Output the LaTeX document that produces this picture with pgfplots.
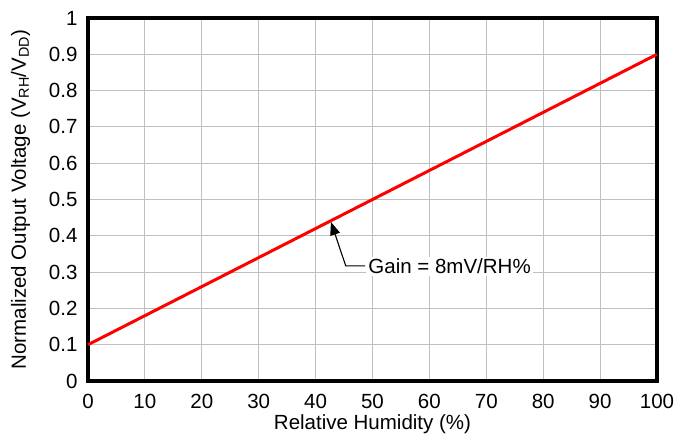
\documentclass[border=0pt]{standalone}
\usepackage{pgfplots}
\pgfplotsset{compat=1.18}
\usetikzlibrary{arrows.meta}
\usepackage{fontspec}
\setmainfont{Liberation Sans}
\begin{document}
\begin{tikzpicture}
\begin{axis}[
  scale only axis,
  width=569pt, height=363pt,
  xmin=0, xmax=100, ymin=0, ymax=1,
  xtick={0,10,...,100},
  ytick={0,0.1,...,1},
  yticklabels={0,0.1,0.2,0.3,0.4,0.5,0.6,0.7,0.8,0.9,1},
  grid=major,
  major grid style={draw=gray!50, line width=1pt},
  axis line style={line width=3.4pt},
  tick style={draw=none},
  /pgf/number format/assume math mode=true,
  ticklabel style={font=\fontsize{20.5}{22}\selectfont},
  label style={font=\fontsize{20.5}{22}\selectfont},
  xticklabel style={yshift=-10pt},
  yticklabel style={xshift=-7pt},
  xlabel={Relative Humidity (\%)},
  ylabel={Normalized Output Voltage (V\textsubscript{RH}/V\textsubscript{DD})},
  xlabel style={yshift=1pt},
  ylabel style={yshift=12pt},
  clip=false,
]
\addplot[red, line width=3pt] coordinates {(0,0.1) (100,0.9)};
\draw[-{Triangle[length=13pt,width=10pt]}, line width=1.1pt] (axis cs:48.7,0.317) -- (axis cs:45.3,0.317) -- (axis cs:42.7,0.438);
\node[anchor=west, fill=white, inner sep=2pt, font=\fontsize{20.5}{22}\selectfont] at (axis cs:48.9,0.315) {Gain = 8mV/RH\%};
\end{axis}
\pgfresetboundingbox
\useasboundingbox ([shift={(-88pt,-53pt)}]current axis.south west) rectangle ([shift={(18pt,18pt)}]current axis.north east);
\end{tikzpicture}
\end{document}
